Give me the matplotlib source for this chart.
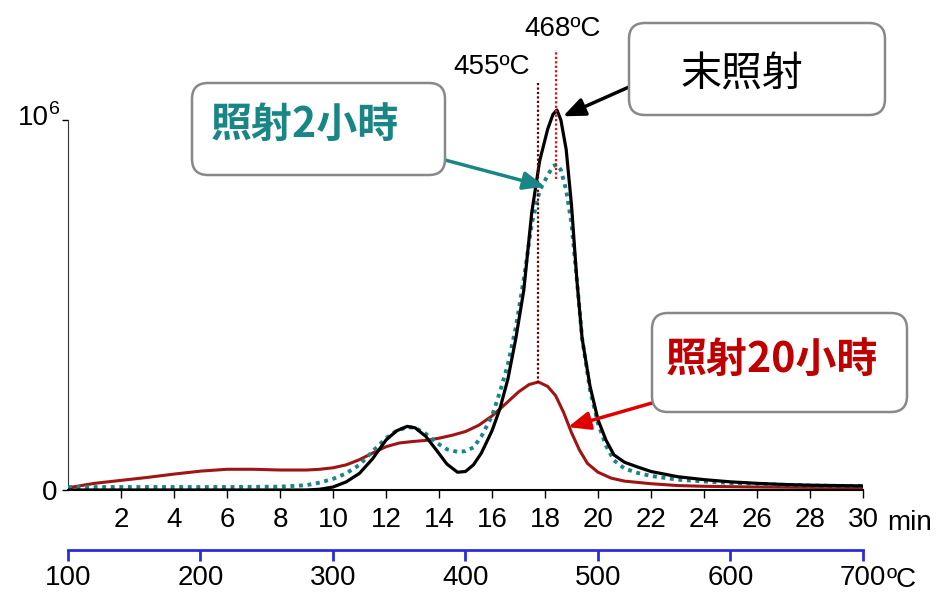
import matplotlib
matplotlib.use("Agg")
import matplotlib.pyplot as plt
from matplotlib.patches import FancyBboxPatch
import numpy as np

plt.rcParams['font.family'] = ['Liberation Sans', 'Noto Sans CJK TC']

# retention time (min) and signal (x 10^6)
t_black = [0, 2, 4, 6, 8, 9, 9.5, 10, 10.5, 11, 11.5, 12, 12.4, 12.8, 13.1, 13.5,
           13.9, 14.3, 14.7, 15.0, 15.3, 15.6, 16.0, 16.3, 16.6, 16.9, 17.2, 17.5,
           17.8, 18.1, 18.3, 18.45, 18.6, 18.8, 19.0, 19.2, 19.4, 19.7, 20.0, 20.3,
           20.6, 21.0, 21.5, 22, 23, 24, 25, 26, 27, 28, 29, 30]
y_black = [0, 0, 0, 0, 0, 0, 0.002, 0.008, 0.022, 0.045, 0.085, 0.135, 0.16, 0.172,
           0.168, 0.145, 0.108, 0.07, 0.048, 0.05, 0.068, 0.1, 0.16, 0.22, 0.3, 0.41,
           0.54, 0.75, 0.89, 0.975, 1.015, 1.027, 1.0, 0.92, 0.77, 0.57, 0.41, 0.28,
           0.19, 0.135, 0.095, 0.075, 0.062, 0.05, 0.036, 0.028, 0.022, 0.018, 0.015,
           0.013, 0.012, 0.011]

t_teal = [0, 2, 4, 6, 8, 9, 9.5, 10, 10.5, 11, 11.5, 12, 12.4, 12.8, 13.1, 13.5,
          13.9, 14.3, 14.7, 15.0, 15.3, 15.6, 16.0, 16.3, 16.6, 16.9, 17.2, 17.5,
          17.8, 18.1, 18.3, 18.45, 18.6, 18.8, 19.0, 19.2, 19.4, 19.7, 20.0, 20.3,
          20.6, 21.0, 21.5, 22, 23, 24, 25, 26, 27, 28, 29, 30]
y_teal = [0.008, 0.008, 0.008, 0.008, 0.009, 0.013, 0.02, 0.03, 0.045, 0.068, 0.105,
          0.14, 0.16, 0.17, 0.168, 0.152, 0.128, 0.11, 0.103, 0.105, 0.115, 0.145,
          0.2, 0.265, 0.34, 0.44, 0.57, 0.72, 0.81, 0.85, 0.875, 0.88, 0.865, 0.81,
          0.72, 0.57, 0.41, 0.27, 0.18, 0.12, 0.08, 0.058, 0.046, 0.038, 0.028,
          0.023, 0.019, 0.016, 0.014, 0.012, 0.011, 0.011]

t_red = [0, 0.5, 1, 2, 3, 4, 5, 6, 7, 8, 9, 9.5, 10, 10.5, 11, 11.5, 12, 12.5, 13,
         13.5, 14, 14.5, 15, 15.5, 16, 16.5, 17, 17.4, 17.75, 18.1, 18.4, 18.7, 19.0,
         19.3, 19.6, 20.0, 20.5, 21, 22, 23, 24, 26, 28, 30]
y_red = [0.006, 0.012, 0.018, 0.026, 0.034, 0.043, 0.051, 0.056, 0.056, 0.054, 0.054,
         0.056, 0.06, 0.068, 0.082, 0.1, 0.117, 0.127, 0.131, 0.134, 0.14, 0.148,
         0.158, 0.175, 0.2, 0.232, 0.265, 0.285, 0.292, 0.28, 0.255, 0.21, 0.155,
         0.108, 0.072, 0.048, 0.032, 0.024, 0.017, 0.012, 0.01, 0.008, 0.007, 0.006]

min_ticks = list(range(2, 31, 2))
temp_ticks = [100, 200, 300, 400, 500, 600, 700]
peak_temps = [455, 468]
peak_lo = [0.29, 0.84]
peak_hi = [1.10, 1.19]

teal = '#1a8585'
dark_red = '#a01414'
blue = '#2b2be0'
fs = 20


def min_to_temp(t):
    return 100 + 20 * np.asarray(t, dtype=float)


def temp_to_min(T):
    return (np.asarray(T, dtype=float) - 100) / 20


def px(x, y):
    # image pixel (from top-left) -> figure fraction
    return x / 952, 1 - y / 612


fig = plt.figure(figsize=(9.52, 6.12), dpi=100)
ax = fig.add_axes([68 / 952, 122 / 612, 795 / 952, 444 / 612])
ax.set_xlim(0, 30)
ax.set_ylim(0, 1.2)

ax.plot(t_red, y_red, color=dark_red, lw=2.2, zorder=3)
ax.plot(t_teal, y_teal, color=teal, lw=2.8, ls=(0, (1, 1.2)), zorder=4)
ax.plot(t_black, y_black, color='black', lw=2.3, zorder=5)

# peak markers
ax.vlines(temp_to_min(peak_temps[0]), peak_lo[0], peak_hi[0], colors='#6a0000',
          linestyles=(0, (1, 1)), lw=1.6, zorder=6)
ax.vlines(temp_to_min(peak_temps[1]), peak_lo[1], peak_hi[1], colors='#e01010',
          linestyles=(0, (1, 1)), lw=1.6, zorder=6)
ax.text(temp_to_min(peak_temps[0]) - 0.3, 1.143, f'{peak_temps[0]}ºC', fontsize=fs,
        ha='right', va='center')
ax.text(temp_to_min(peak_temps[1]) + 0.28, 1.245, f'{peak_temps[1]}ºC', fontsize=fs,
        ha='center', va='center')

for s in ['top', 'right']:
    ax.spines[s].set_visible(False)
ax.spines['left'].set_bounds(0, 1)
ax.spines['left'].set_color('#333333')
ax.spines['bottom'].set_linewidth(1.5)

ax.set_xticks(min_ticks)
ax.set_xticklabels([str(v) for v in min_ticks])
ax.tick_params(axis='x', length=6, width=1, pad=6, labelsize=fs)
ax.set_yticks([0, 1])
ax.set_yticklabels(['0', ''])
ax.tick_params(axis='y', length=4, width=1, pad=4, labelsize=fs)
# 10^6 label with a larger superscript
fig.text(*px(49, 118), '10', fontsize=fs, ha='right', va='center')
fig.text(*px(49, 110), '6', fontsize=14, ha='left', va='center')
fig.text(*px(887, 523), 'min', fontsize=fs, ha='left', va='center')

sec = ax.secondary_xaxis(-0.135, functions=(min_to_temp, temp_to_min))
sec.set_xticks(temp_ticks)
sec.set_xticklabels([str(v) for v in temp_ticks])
sec.spines['bottom'].set_color(blue)
sec.spines['bottom'].set_linewidth(2)
sec.tick_params(axis='x', color=blue, width=2, length=8, pad=3, labelsize=fs)
fig.text(*px(887, 580), 'ºC', fontsize=fs, ha='left', va='center')

# callout boxes
boxes = [
    ((192, 83, 445, 175), '照射2小時', teal, 'bold', (305, 125)),
    ((629, 23, 885, 115), '末照射', 'black', 'normal', (742, 75)),
    ((652, 313, 907, 412), '照射20小時', '#c00000', 'bold', (772, 360)),
]
for (x0, y0, x1, y1), label, col, wt, (tx, ty) in boxes:
    p = FancyBboxPatch((x0 / 100, (612 - y1) / 100), (x1 - x0) / 100, (y1 - y0) / 100,
                       boxstyle='round,pad=0,rounding_size=0.16',
                       transform=fig.dpi_scale_trans, fc='white', ec='#888888', lw=1.8)
    fig.add_artist(p)
    fig.text(*px(tx, ty), label, fontsize=29.5, color=col, fontweight=wt,
             family=['Noto Sans CJK TC'], ha='center', va='center')

arrows = [
    ((18.0, 0.82), (445, 612 - 160), teal),
    ((18.68, 1.01), (629, 612 - 87), 'black'),
    ((18.87, 0.17), (652, 612 - 403), '#e00000'),
]
for tip, tail, col in arrows:
    ax.annotate('', xy=tip, xytext=tail, textcoords='figure pixels',
                arrowprops=dict(arrowstyle='-|>,head_length=0.6,head_width=0.25',
                                color=col, lw=2.5, mutation_scale=22,
                                shrinkA=0, shrinkB=0),
                annotation_clip=False, zorder=8)

fig.savefig('out.png', dpi=100)
